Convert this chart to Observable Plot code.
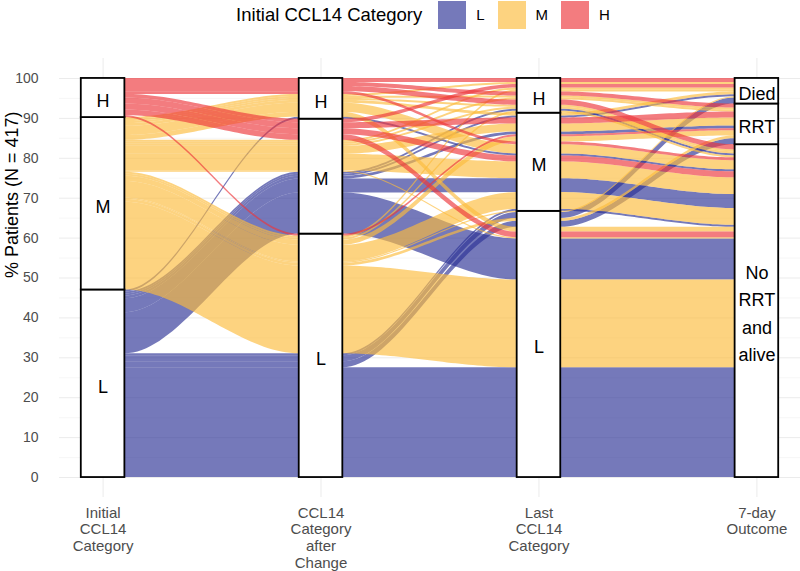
<!DOCTYPE html>
<html>
<head>
<meta charset="utf-8">
<script src="https://cdn.jsdelivr.net/npm/d3@7"></script>
<script src="https://cdn.jsdelivr.net/npm/@observablehq/plot@0.6"></script>
<style>
  body { margin: 0; background: #fff; font-family: "Liberation Sans", Arial, sans-serif; }
  #legend { width: 800px; height: 40px; box-sizing: border-box; padding-left: 59px;
            display: flex; justify-content: center; align-items: flex-start; }
  #legend .title { font-size: 18.5px; line-height: 30px; color: #000; margin-right: 16px; }
  #legend .sw { width: 28px; height: 28px; margin-top: 1px; }
  #legend .lab { font-size: 15px; line-height: 30px; color: #000; margin: 0 13px 0 10px; }
</style>
</head>
<body>
<div id="legend"></div>
<div id="chart"></div>
<script>
// ---------------- data ----------------
const axisPositions = [1, 2, 3, 4];
const axisLabels = ["Initial\nCCL14\nCategory", "CCL14\nCategory\nafter\nChange", "Last\nCCL14\nCategory", "7-day\nOutcome"];
const ccl14Levels = ["L", "M", "H"];
const outcomeCodes = ["A", "R", "D"];
const outcomeLabels = ["No\nRRT\nand\nalive", "RRT", "Died"];
const legendTitle = "Initial CCL14 Category";
const yTitle = "% Patients (N = 417)";
const yMajorTicks = [0, 10, 20, 30, 40, 50, 60, 70, 80, 90, 100];
const yMinorTicks = [5, 15, 25, 35, 45, 55, 65, 75, 85, 95];

// cohort paths: initial, after change, last, 7-day outcome (A alive, R RRT, D died)
const cohortPaths = [
  "L L L A", "L L L R", "L L L D", "L L M A",
  "L M L A", "L M M A", "L M M R", "L M M D", "L M H A",
  "L H M A",
  "M L L A", "M L L R", "M L L D", "M L M A", "M L M R", "M L H A", "M L H D",
  "M M L A", "M M M A", "M M M R", "M M H A", "M M H R", "M M H D",
  "M H L A", "M H M A", "M H M D", "M H H A", "M H H R", "M H H D",
  "H L M R",
  "H M L A", "H M M A", "H M M R", "H M H D",
  "H H H A", "H H H R", "H H H D", "H H M A"
];
// % of patients in each cohort
const cohortPct = [
  27.5, 1.5, 1.5, 0.5,
  10.3, 3.5, 0.7, 0.5, 0.5,
  0.5,
  22.0, 0.7, 0.3, 4.2, 1.3, 0.5, 0.5,
  0.3, 4.2, 2.0, 0.5, 0.5, 0.5,
  1.2, 2.3, 0.7, 0.5, 0.5, 0.5,
  0.5,
  1.4, 1.5, 1.5, 0.9,
  1.3, 1.0, 1.0, 0.7
];

const flowColors = ["#2b3195", "#fcbc3c", "#ed363a"];     // fill, drawn at opacity 0.65
const legendColors = ["#7579ba", "#fdd380", "#f37c7f"];

// ---------------- layout computation (ggalluvial-like zigzag lode ordering) ----------------
const boxW = 0.2;
const rankCat = {L: 0, M: 1, H: 2};
const rankOut = {A: 0, R: 1, D: 2};
const rk = (k, s) => k === 3 ? rankOut[s] : rankCat[s];
const zig = [[0, 1, 2, 3], [1, 0, 2, 3], [2, 3, 1, 0], [3, 2, 1, 0]];

const cohorts = cohortPaths.map((p, i) => ({id: i, st: p.split(" "), pct: cohortPct[i], init: p.split(" ")[0]}));
const pos = axisPositions.map(() => ({}));
for (let k = 0; k < 4; k++) {
  const sorted = cohorts.slice().sort((a, b) => {
    for (const j of zig[k]) { const d = rk(j, a.st[j]) - rk(j, b.st[j]); if (d) return d; }
    return a.id - b.id;
  });
  let cum = 0;
  for (const c of sorted) { pos[k][c.id] = {lo: cum, hi: cum + c.pct}; cum += c.pct; }
}

// strata boxes
const strata = [];
for (let k = 0; k < 4; k++) {
  const levels = k === 3 ? outcomeCodes : ccl14Levels;
  levels.forEach((lv, li) => {
    const members = cohorts.filter(c => c.st[k] === lv);
    if (!members.length) return;
    strata.push({
      axis: axisPositions[k],
      lo: d3.min(members, c => pos[k][c.id].lo),
      hi: d3.max(members, c => pos[k][c.id].hi),
      label: k === 3 ? outcomeLabels[li] : lv
    });
  });
}

// flow polygons
const N = 40;
const flowPts = [];
const ordered = cohorts.slice().sort((a, b) => rankCat[a.init] - rankCat[b.init] || a.id - b.id);
for (const c of ordered) {
  for (let k = 0; k < 4; k++) {
    const p = pos[k][c.id];
    const xc = axisPositions[k];
    flowPts.push({id: c.id, init: c.init, x: xc - boxW / 2, y1: p.lo, y2: p.hi});
    flowPts.push({id: c.id, init: c.init, x: xc + boxW / 2, y1: p.lo, y2: p.hi});
    if (k < 3) {
      const q = pos[k + 1][c.id];
      const xa = xc + boxW / 2, xb = axisPositions[k + 1] - boxW / 2;
      for (let t = 1; t < N; t++) {
        const u = t / N, s = u * u * (3 - 2 * u);
        flowPts.push({id: c.id, init: c.init, x: xa + (xb - xa) * u,
          y1: p.lo + (q.lo - p.lo) * s, y2: p.hi + (q.hi - p.hi) * s});
      }
    }
  }
}

// ---------------- legend ----------------
const lg = document.getElementById("legend");
lg.innerHTML = `<span class="title">${legendTitle}</span>` +
  ccl14Levels.map((l, i) => `<span class="sw" style="background:${legendColors[i]}"></span><span class="lab">${l}</span>`).join("");

// ---------------- plot ----------------
const chart = Plot.plot({
  width: 800, height: 531,
  marginLeft: 59, marginRight: 0, marginTop: 18, marginBottom: 74,
  x: {domain: [0.8, 4.2], axis: null},
  y: {domain: [-5, 105], axis: null},
  color: {domain: ccl14Levels, range: flowColors},
  style: {fontFamily: "Liberation Sans, Arial, sans-serif", background: "white"},
  marks: [
    Plot.gridY(yMinorTicks, {stroke: "#f3f3f3", strokeOpacity: 1, strokeWidth: 0.7}),
    Plot.gridY(yMajorTicks, {stroke: "#ebebeb", strokeOpacity: 1, strokeWidth: 1}),
    Plot.gridX(axisPositions, {stroke: "#ebebeb", strokeOpacity: 1, strokeWidth: 1}),
    Plot.area(flowPts, {x1: "x", y1: "y1", y2: "y2", z: "id", fill: "init", fillOpacity: 0.65}),
    Plot.rect(strata, {x1: d => d.axis - boxW / 2, x2: d => d.axis + boxW / 2, y1: "lo", y2: "hi",
      fill: "white", stroke: "black", strokeWidth: 1.8}),
    Plot.text(strata, {x: "axis", y: d => (d.lo + d.hi) / 2, text: "label", fontSize: 18,
      lineHeight: 1.53, fill: "black"}),
    Plot.axisY({ticks: yMajorTicks, tickSize: 0, tickPadding: 21, fontSize: 14, color: "#4d4d4d", label: null}),
    Plot.axisX({ticks: axisPositions, tickFormat: d => axisLabels[d - 1], tickSize: 0, tickPadding: 8,
      fontSize: 15, lineHeight: 1.13, color: "#4d4d4d", label: null}),
    Plot.text([yTitle], {frameAnchor: "left", rotate: -90, dx: -47, fontSize: 18, fill: "black"})
  ]
});
document.getElementById("chart").appendChild(chart);
</script>
</body>
</html>
